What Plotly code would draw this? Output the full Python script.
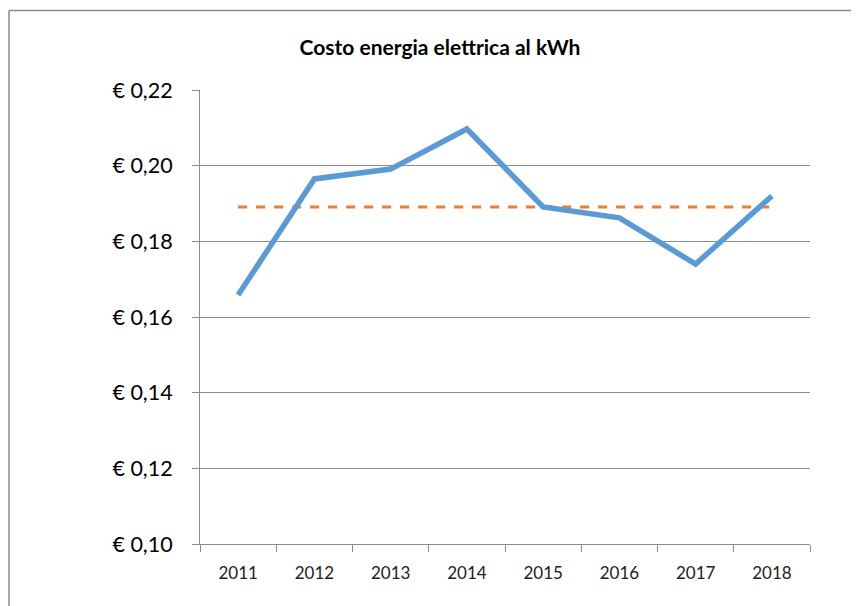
import plotly.graph_objects as go

# dati
anni = ["2011", "2012", "2013", "2014", "2015", "2016", "2017", "2018"]
costo_kwh = [0.1658, 0.1965, 0.1991, 0.2097, 0.1891, 0.1862, 0.1740, 0.1920]
media = [0.1891, 0.1891, 0.1891, 0.1891, 0.1891, 0.1891, 0.1891, 0.1891]
y_ticks = [0.10, 0.12, 0.14, 0.16, 0.18, 0.20, 0.22]
y_labels = ["€ 0,10", "€ 0,12", "€ 0,14", "€ 0,16", "€ 0,18", "€ 0,20", "€ 0,22"]

fig = go.Figure()
fig.add_trace(go.Scatter(
    x=anni, y=media, mode="lines",
    line=dict(color="#ED7D31", width=3, dash="dash"),
    showlegend=False, hoverinfo="skip",
))
fig.add_trace(go.Scatter(
    x=anni, y=costo_kwh, mode="lines",
    line=dict(color="#5B9BD5", width=5.5),
    showlegend=False,
))

grid = "#8C8C8C"
font_fam = "Lato, 'Open Sans', sans-serif"

# la pagina ha 8px di margine: la figura è più piccola di 8px
W, H = 851, 598
OFF = 8

fig.update_layout(
    width=W, height=H,
    margin=dict(l=200 - OFF, r=49, t=90 - OFF, b=62),
    paper_bgcolor="white", plot_bgcolor="white",
    title=dict(
        text="Costo energia elettrica al kWh",
        x=(440 - OFF) / W, xanchor="center", y=1 - (48 - OFF) / H, yanchor="middle",
        font=dict(family=font_fam, size=21, color="#000000", weight="bold"),
    ),
    xaxis=dict(
        type="category", range=[-0.5, 7.5],
        showgrid=False, showline=True, linecolor=grid, linewidth=1,
        ticks="outside", tickson="boundaries", ticklen=7, tickcolor=grid,
        tickfont=dict(family=font_fam, size=17, color="#222222"),
        ticklabelstandoff=14,
    ),
    yaxis=dict(
        range=[0.10, 0.22], tickvals=y_ticks, ticktext=y_labels,
        showgrid=True, gridcolor=grid, gridwidth=1,
        showline=True, linecolor=grid, linewidth=1,
        ticks="outside", ticklen=7, tickcolor=grid,
        tickfont=dict(family=font_fam, size=21.5, color="#000000"),
        ticklabelstandoff=15, zeroline=False,
    ),
)

# cornice del grafico (tagliata a destra e in basso)
px_x = lambda px: (px - 200) / 610
px_y = lambda py: (544 - py) / 454
fig.add_shape(type="line", xref="paper", yref="paper",
              x0=px_x(9), x1=px_x(870), y0=px_y(10.5), y1=px_y(10.5),
              line=dict(color="#8A8A8A", width=1.5))
fig.add_shape(type="line", xref="paper", yref="paper",
              x0=px_x(9), x1=px_x(9), y0=px_y(10.5), y1=px_y(620),
              line=dict(color="#8A8A8A", width=1.5))

fig.write_html("out.html")
